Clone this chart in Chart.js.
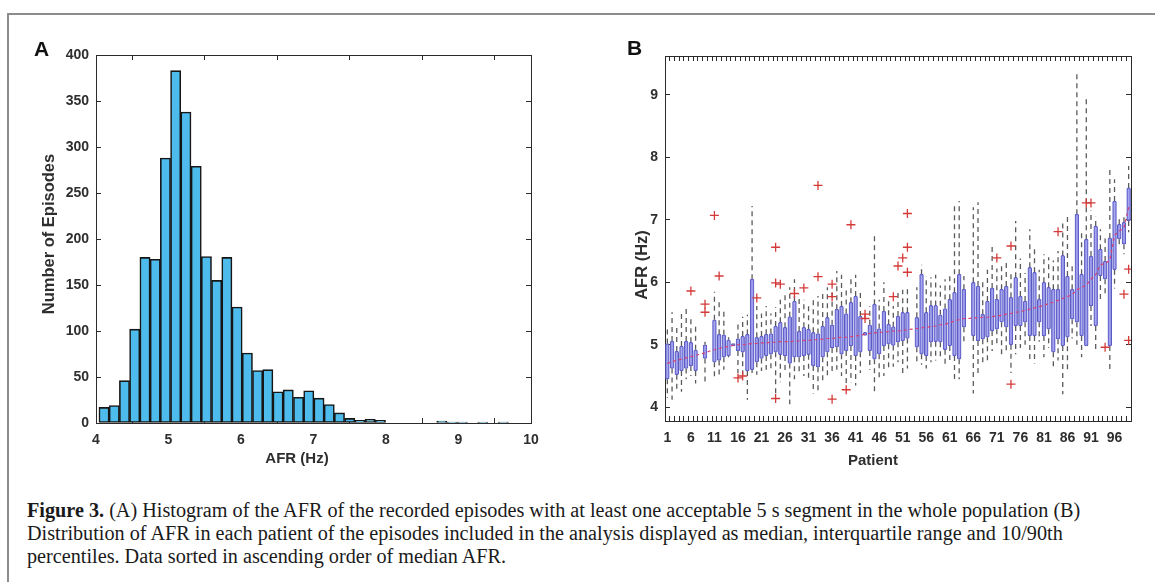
<!DOCTYPE html>
<html><head><meta charset="utf-8">
<script src="https://cdn.jsdelivr.net/npm/chart.js@4.4.1/dist/chart.umd.min.js"></script>
<style>
body{margin:0;width:1155px;height:582px;background:#fff;position:relative;overflow:hidden;font-family:'Liberation Sans',Arial,sans-serif;}
#frame{position:absolute;left:7px;top:13px;width:1170px;height:600px;border-left:2px solid #8c8c8c;border-top:2px solid #8c8c8c;}
#wa{position:absolute;left:0;top:0;width:580px;height:480px;}
#wb{position:absolute;left:580px;top:0;width:575px;height:480px;}
.lab{position:absolute;font-weight:bold;font-size:21px;color:#111;line-height:24px;}
.ttl{position:absolute;font-weight:bold;color:#2e2e2e;white-space:nowrap;line-height:1;}
.h{font-size:15px;transform:translate(-50%,-50%);}
.v{font-size:16.5px;transform:translate(-50%,-50%) rotate(-90deg);}
.cap{position:absolute;left:27px;font-family:'Liberation Serif','DejaVu Serif',serif;font-size:16px;line-height:20px;color:#1a1a1a;white-space:nowrap;}
</style></head>
<body>
<div id="frame"></div>
<div id="wa"><canvas id="ca" width="580" height="480"></canvas></div>
<div id="wb"><canvas id="cb" width="575" height="480"></canvas></div>
<div class="lab" style="left:34px;top:37px">A</div>
<div class="lab" style="left:627px;top:36px">B</div>
<div class="ttl h" style="left:297px;top:457px">AFR (Hz)</div>
<div class="ttl v" style="left:48px;top:234px">Number of Episodes</div>
<div class="ttl h" style="left:873px;top:459px">Patient</div>
<div class="ttl v" style="left:641px;top:265px">AFR (Hz)</div>
<div class="cap" id="c1" style="top:500px"><b>Figure 3.</b> (A) Histogram of the AFR of the recorded episodes with at least one acceptable 5 s segment in the whole population (B)</div>
<div class="cap" id="c2" style="top:523px">Distribution of AFR in each patient of the episodes included in the analysis displayed as median, interquartile range and 10/90th</div>
<div class="cap" id="c3" style="top:546px">percentiles. Data sorted in ascending order of median AFR.</div>
<script>
// ---------- Panel A: histogram ----------
const histBinCenters = [4.111,4.252,4.393,4.534,4.676,4.817,4.958,5.099,5.240,5.382,5.523,5.664,5.805,5.946,6.088,6.229,6.370,6.511,6.652,6.794,6.935,7.076,7.217,7.358,7.500,7.641,7.782,7.923,8.064,8.206,8.347,8.488,8.629,8.770,8.912,9.053,9.194,9.335,9.476,9.618];
const histCounts = [17,19,46,102,180,178,288,383,338,279,181,155,180,126,76,57,58,34,36,28,35,27,20,11,5,3,4,3,0,0,0,0,0,2,1,1,0,1,0,1];
const histXTicks = [4,5,6,7,8,9,10];
const histYTicks = [0,50,100,150,200,250,300,350,400];

// ---------- Panel B: per-patient distribution ----------
const patients = [1,2,3,4,5,6,7,8,9,10,11,12,13,14,15,16,17,18,19,20,21,22,23,24,25,26,27,28,29,30,31,32,33,34,35,36,37,38,39,40,41,42,43,44,45,46,47,48,49,50,51,52,53,54,55,56,57,58,59,60,61,62,63,64,65,66,67,68,69,70,71,72,73,74,75,76,77,78,79,80,81,82,83,84,85,86,87,88,89,90,91,92,93,94,95,96,97,98,99];
const p10 = [4.15,4.12,4.28,4.25,4.45,4.50,4.38,null,4.38,null,4.48,4.52,4.60,4.80,4.98,4.55,4.52,4.12,4.55,4.52,4.58,4.60,4.62,4.20,4.40,4.58,4.05,4.45,4.52,4.50,4.45,4.22,4.25,4.40,4.50,4.55,4.60,4.50,4.38,4.40,4.35,4.55,5.15,4.60,4.20,4.45,4.50,4.62,4.65,4.72,4.55,4.62,null,4.72,4.68,4.62,4.72,4.75,4.80,4.65,4.72,4.40,4.45,5.00,null,4.22,4.55,4.72,4.75,4.90,5.00,4.85,4.90,4.55,4.85,4.95,5.00,4.75,4.70,5.05,4.80,4.95,4.60,4.75,4.21,4.60,5.10,5.00,4.80,4.98,5.30,4.90,5.70,5.80,4.60,5.90,6.55,6.45,6.80];
const p25 = [4.45,4.62,4.52,4.58,4.62,4.66,4.58,null,4.78,null,4.72,4.75,4.80,4.82,4.98,4.90,4.88,4.58,4.60,4.72,4.78,4.82,4.85,4.88,4.84,4.82,4.70,4.80,4.80,4.82,4.84,4.66,4.64,4.80,4.88,4.95,4.96,4.85,4.90,4.98,4.82,4.88,5.15,4.90,4.77,4.85,4.98,5.01,4.99,5.04,5.06,5.10,null,4.96,4.85,4.82,5.04,5.05,5.04,4.92,4.98,4.82,4.77,5.28,null,5.14,5.06,5.09,5.12,5.22,5.25,5.36,5.28,5.00,5.30,5.30,5.36,5.14,5.14,5.36,5.14,5.25,4.88,5.09,4.98,5.12,5.41,5.36,5.14,4.98,5.62,5.30,6.10,6.05,4.98,6.20,6.69,6.61,6.98];
const pMed = [4.70,4.73,4.75,4.77,4.79,4.81,4.83,4.85,4.87,4.90,4.92,4.94,4.96,4.97,4.99,5.00,5.00,5.01,5.02,5.02,5.03,5.03,5.04,5.04,5.05,5.05,5.05,5.06,5.06,5.07,5.07,5.08,5.08,5.09,5.10,5.10,5.11,5.12,5.12,5.13,5.14,5.15,5.17,5.18,5.19,5.20,5.20,5.21,5.22,5.22,5.23,5.24,5.25,5.26,5.27,5.28,5.29,5.30,5.32,5.33,5.35,5.38,5.40,5.42,5.42,5.43,5.43,5.44,5.44,5.45,5.46,5.47,5.49,5.50,5.52,5.53,5.55,5.57,5.59,5.61,5.63,5.66,5.68,5.71,5.74,5.77,5.80,5.88,5.92,5.95,6.05,6.12,6.28,6.30,6.35,6.75,6.82,6.87,7.20];
const p75 = [5.02,5.06,4.90,4.98,5.06,5.04,4.92,null,5.00,null,5.40,5.17,5.16,5.08,5.02,5.10,5.14,5.17,6.05,5.12,5.14,5.17,5.18,5.30,5.36,5.28,5.45,5.70,5.22,5.28,5.25,5.20,5.18,5.30,5.44,5.32,5.57,5.62,5.50,5.68,5.78,5.46,5.20,5.32,5.65,5.26,5.54,5.33,5.29,5.46,5.52,5.52,null,5.44,6.13,5.52,5.63,5.63,5.48,5.58,5.73,5.84,6.13,5.89,null,6.00,5.94,5.49,5.70,5.91,5.73,5.89,5.94,5.76,6.08,5.78,5.70,6.24,6.16,5.73,6.00,5.92,5.89,5.89,6.43,6.10,5.89,7.09,6.13,6.69,6.42,6.90,6.53,6.34,6.71,7.30,6.93,6.96,7.51];
const p90 = [5.28,5.52,5.30,5.55,5.58,5.42,5.35,null,5.05,null,5.85,5.68,5.55,5.12,5.02,5.38,5.45,5.48,7.22,5.62,5.50,5.62,5.50,5.60,5.72,5.85,5.92,6.05,5.80,5.72,5.65,5.72,5.78,5.85,5.92,5.85,6.18,6.12,5.92,6.05,6.12,5.88,5.20,5.62,6.74,5.72,6.00,5.72,5.62,5.85,5.88,5.90,null,5.92,6.28,6.10,6.08,6.12,5.95,6.05,6.10,7.28,7.30,6.10,null,7.20,7.28,6.05,6.20,6.60,6.22,6.30,6.35,6.15,6.98,6.38,6.15,6.85,6.55,6.20,6.45,6.40,6.35,6.50,6.98,7.05,6.30,9.38,6.80,8.95,7.15,7.05,6.85,6.70,7.83,7.65,7.05,7.10,7.86];
const outlierPatient = [6,9,9,11,12,16,17,20,24,24,24,25,28,30,33,33,36,36,36,39,40,43,43,49,50,51,52,52,52,71,74,74,84,90,91,94,98,99,99];
const outlierAFR = [5.86,5.65,5.52,7.07,6.10,4.47,4.50,5.75,6.56,5.99,4.14,5.97,5.82,5.91,7.55,6.09,5.97,5.77,4.13,4.28,6.92,5.49,5.42,5.77,6.26,6.39,7.10,6.56,6.16,6.39,6.58,4.37,6.81,7.27,7.27,4.96,5.81,6.21,5.07];
const patientTickLabels = [1,6,11,16,21,26,31,36,41,46,51,56,61,66,71,76,81,86,91,96];
const afrTicks = [4,5,6,7,8,9];

// ---------- common styling ----------
Chart.defaults.font.family = "'Liberation Sans', Arial, sans-serif";
const txtCol = '#2e2e2e';
const axisCol = '#2b2b2b';
const tickFont = {size:14, weight:'bold'};

function frameAxis(pos, min, max, tickVals, extra) {
  const horiz = (pos === 'top' || pos === 'bottom');
  const base = {
    type:'linear', position:pos, min:min, max:max, offset:false,
    afterBuildTicks: s => { s.ticks = tickVals.map(v => ({value:v})); },
    grid:{drawOnChartArea:false, tickLength:-5, color:axisCol, lineWidth:1},
    border:{display:true, color:axisCol, width:1},
    ticks:{display:false, autoSkip:false, maxRotation:0, minRotation:0},
    afterFit: s => { if (horiz) s.height = 0; else s.width = 0; }
  };
  return Object.assign(base, extra || {});
}

// ---------- Chart A ----------
new Chart(document.getElementById('ca'), {
  type:'bar',
  data:{datasets:[{
    xAxisID:'x', yAxisID:'y',
    data: histBinCenters.map((c,i) => ({x:c, y:histCounts[i]})),
    backgroundColor:'#4DBBEC', borderColor:'#161616', borderWidth:1.6,
    borderSkipped:false, barPercentage:1, categoryPercentage:1
  }]},
  options:{
    responsive:false, animation:false, devicePixelRatio:1,
    layout:{padding:{left:42, right:49, top:55, bottom:15}},
    plugins:{legend:{display:false}, tooltip:{enabled:false}},
    scales:{
      x: frameAxis('bottom', 4, 10, histXTicks, {
        ticks:{display:true, font:tickFont, color:txtCol, padding:14, autoSkip:false, maxRotation:0},
        afterFit: s => { s.height = 42; }
      }),
      xt: frameAxis('top', 4, 10, histXTicks),
      y: frameAxis('left', 0, 400, histYTicks, {
        ticks:{display:true, font:tickFont, color:txtCol, padding:12, autoSkip:false},
        afterFit: s => { s.width = 54; }
      }),
      yr: frameAxis('right', 0, 400, histYTicks)
    }
  }
});

// ---------- Chart B ----------
const boxData = [], whiskerData = [], medData = [];
patients.forEach((p,i) => {
  medData.push({x:p, y:pMed[i]});
  if (p25[i] !== null) {
    boxData.push({x:p, y:[p25[i], p75[i]]});
    whiskerData.push({x:p, y:p25[i]}, {x:p, y:p10[i]}, {x:p, y:null});
    whiskerData.push({x:p, y:p75[i]}, {x:p, y:p90[i]}, {x:p, y:null});
  }
});
const outData = outlierPatient.map((p,i) => ({x:p, y:outlierAFR[i]}));

new Chart(document.getElementById('cb'), {
  type:'bar',
  data:{datasets:[
    {type:'line', xAxisID:'x', yAxisID:'y', data:whiskerData, order:3,
     borderColor:'#5a5a5a', borderWidth:1.3, borderDash:[5,4], pointRadius:0, spanGaps:false, tension:0},
    {type:'bar', xAxisID:'x', yAxisID:'y', data:boxData, order:2,
     backgroundColor:'rgba(146,146,234,0.78)', borderColor:'#5a5ac4', borderWidth:1,
     borderSkipped:false, borderRadius:1.5, barThickness:3.8},
    {type:'line', xAxisID:'x', yAxisID:'y', data:medData, order:1,
     borderColor:'#d8406e', borderWidth:1.2, borderDash:[3,3], pointRadius:0, tension:0},
    {type:'line', xAxisID:'x', yAxisID:'y', data:outData, order:0, showLine:false,
     pointStyle:'cross', pointRadius:4.5, pointBorderColor:'#d43a3a', pointBorderWidth:1.3, borderColor:'#d43a3a'}
  ]},
  options:{
    responsive:false, animation:false, devicePixelRatio:1,
    layout:{padding:{left:53, right:24, top:56, bottom:14}},
    plugins:{legend:{display:false}, tooltip:{enabled:false}},
    scales:{
      x: frameAxis('bottom', 0.5, 99.5, patients, {
        ticks:{display:true, font:tickFont, color:txtCol, padding:14, autoSkip:false, maxRotation:0,
               callback: v => patientTickLabels.includes(v) ? String(v) : ''},
        afterFit: s => { s.height = 45; }
      }),
      xt: frameAxis('top', 0.5, 99.5, patients),
      y: frameAxis('left', 3.78, 9.62, afrTicks, {
        ticks:{display:true, font:tickFont, color:txtCol, padding:12, autoSkip:false},
        afterFit: s => { s.width = 32; }
      }),
      yr: frameAxis('right', 3.78, 9.62, afrTicks)
    }
  }
});

// ---------- caption fitting ----------
(function(){
  const c1 = document.getElementById('c1');
  const w = c1.getBoundingClientRect().width;
  const target = 1054;
  const fs = 16 * target / w;
  ['c1','c2','c3'].forEach(id => { document.getElementById(id).style.fontSize = fs.toFixed(2) + 'px'; });
})();
</script>
</body></html>
